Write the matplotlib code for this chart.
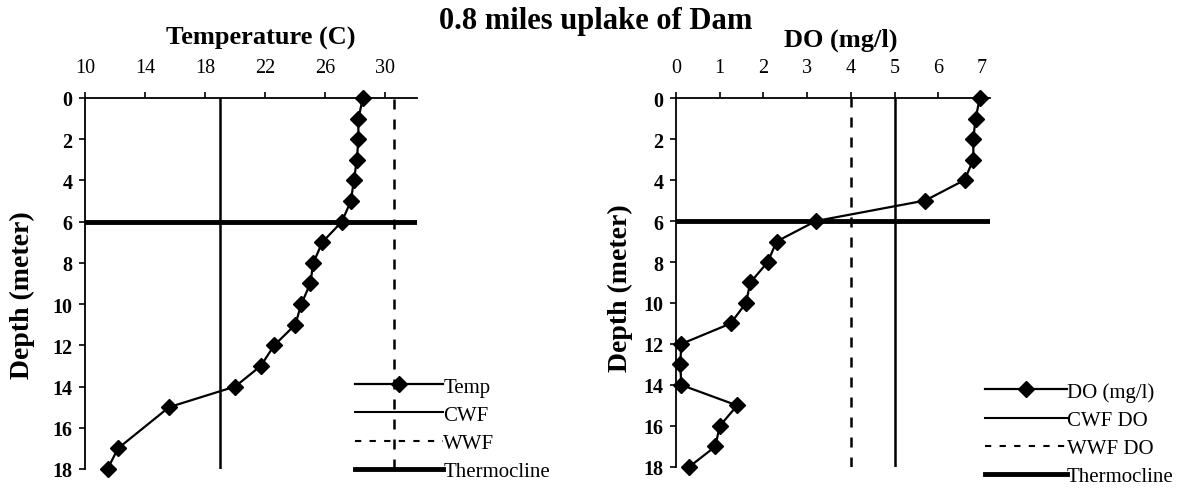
import matplotlib
matplotlib.use("Agg")
import matplotlib.pyplot as plt
from matplotlib.lines import Line2D

plt.rcParams['font.family'] = ['Liberation Serif', 'DejaVu Serif']

# ---- data ----
temp_depth = [0, 1, 2, 3, 4, 5, 6, 7, 8, 9, 10, 11, 12, 13, 14, 15, 17, 18]
temp_vals = [28.5, 28.2, 28.2, 28.1, 27.9, 27.7, 27.1, 25.8, 25.2, 25.0, 24.4, 24.0, 22.6, 21.7, 20.0, 15.6, 12.2, 11.5]
temp_cwf = 19.0
temp_wwf = 30.6
thermocline = 6

do_depth = [0, 1, 2, 3, 4, 5, 6, 7, 8, 9, 10, 11, 12, 13, 14, 15, 16, 17, 18]
do_vals = [6.95, 6.85, 6.8, 6.8, 6.6, 5.7, 3.2, 2.3, 2.1, 1.7, 1.6, 1.25, 0.12, 0.1, 0.12, 1.4, 1.0, 0.9, 0.3]
do_cwf = 5.0
do_wwf = 4.0

temp_ticks = [10, 14, 18, 22, 26, 30]
do_ticks = [0, 1, 2, 3, 4, 5, 6, 7]
depth_ticks = [0, 2, 4, 6, 8, 10, 12, 14, 16, 18]

fig = plt.figure(figsize=(11.92, 4.89), dpi=100)

ax1 = fig.add_axes([0.0713, 0.0389, 0.2785, 0.7587])
ax2 = fig.add_axes([0.5671, 0.043, 0.2634, 0.7545])


def style(ax, xlim, xticks, xlabel, xl_pos, yl_pos):
    ax.set_xlim(*xlim)
    ax.set_ylim(18, 0)
    ax.xaxis.tick_top()
    ax.set_xticks(xticks)
    ax.set_yticks(depth_ticks)
    ax.spines['right'].set_visible(False)
    ax.spines['bottom'].set_visible(False)
    for s in ('left', 'top'):
        ax.spines[s].set_linewidth(1.3)
    ax.tick_params(axis='x', direction='out', length=4, width=1.2, labelsize=14.5, pad=11)
    ax.tick_params(axis='y', direction='out', length=4, width=1.2, labelsize=14.5, pad=5)
    for lab in ax.get_yticklabels():
        lab.set_fontweight('bold')
    ax.text(xl_pos[0], xl_pos[1], xlabel, transform=ax.transAxes, ha='center', va='center',
            fontsize=19, fontweight='bold')
    ax.set_ylabel('Depth (meter)', fontsize=20, fontweight='bold', va='center')
    ax.yaxis.set_label_coords(*yl_pos)


# left: temperature
l1, = ax1.plot(temp_vals, temp_depth, color='black', lw=1.6, marker='D', markersize=8, clip_on=False, zorder=5)
ax1.axvline(temp_cwf, color='black', lw=1.8)
ax1.axvline(temp_wwf, color='black', lw=1.8, ls=(0, (4, 4)))
ax1.axhline(thermocline, color='black', lw=3.5)
style(ax1, (10, 32.1), temp_ticks, 'Temperature (C)', (0.53, 1.164), (-0.187, 0.472))

# right: DO
r1, = ax2.plot(do_vals, do_depth, color='black', lw=1.6, marker='D', markersize=8, clip_on=False, zorder=5)
ax2.axvline(do_cwf, color='black', lw=1.8)
ax2.axvline(do_wwf, color='black', lw=1.8, ls=(0, (4, 4)))
ax2.axhline(thermocline, color='black', lw=3.5)
style(ax2, (0, 7.18), do_ticks, 'DO (mg/l)', (0.525, 1.16), (-0.178, 0.488))

fig.text(0.5, 1 - 22 / 489, '0.8 miles uplake of Dam', ha='center', va='center', fontsize=22, fontweight='bold')

leg_kw = dict(frameon=False, fontsize=15, handletextpad=0.0,
              labelspacing=0.41, borderpad=0, borderaxespad=0)
fig.legend([l1, Line2D([], [], color='black', lw=1.5), Line2D([], [], color='black', lw=1.5, ls=(0, (3, 4))),
            Line2D([], [], color='black', lw=3.5)],
           ['Temp', 'CWF', 'WWF', 'Thermocline'], loc='upper left', handlelength=4.23,
           bbox_to_anchor=(355 / 1192, 1 - 378 / 489), **leg_kw)
fig.legend([r1, Line2D([], [], color='black', lw=1.5), Line2D([], [], color='black', lw=1.5, ls=(0, (3, 4))),
            Line2D([], [], color='black', lw=3.5)],
           ['DO (mg/l)', 'CWF DO', 'WWF DO', 'Thermocline'], loc='upper left', handlelength=3.94,
           bbox_to_anchor=(985 / 1192, 1 - 383 / 489), **leg_kw)

fig.savefig('out.png', dpi=100)
